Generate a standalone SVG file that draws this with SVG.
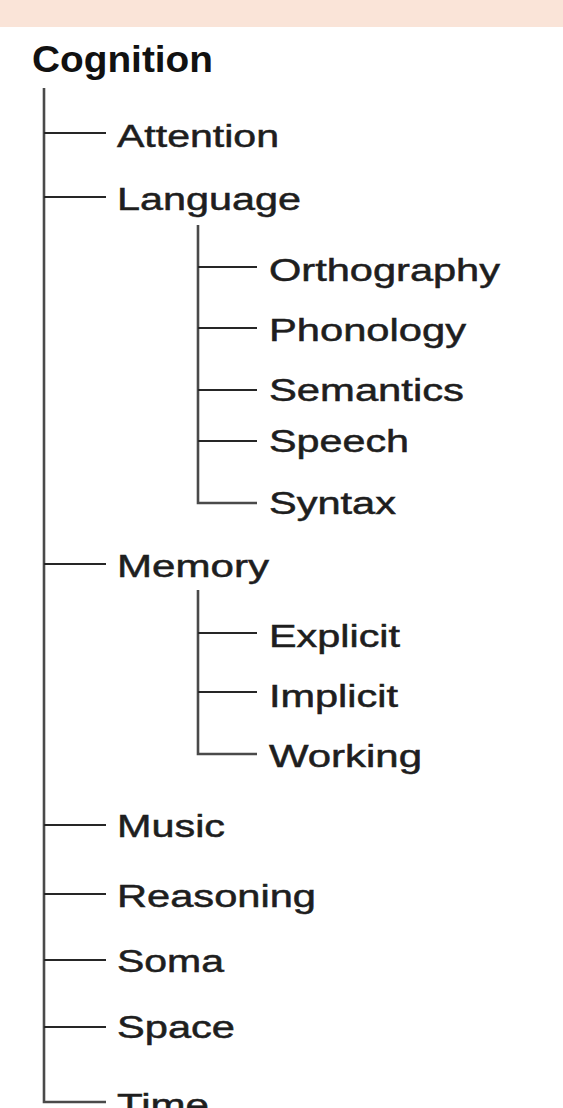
<svg xmlns="http://www.w3.org/2000/svg" width="563" height="1108" viewBox="0 0 563 1108">
  <style>
    .band { fill: #fae4d8; }
    .root { font-family: "Liberation Sans", Arial, sans-serif; font-weight: bold; font-size: 37px; fill: #111; }
    .label { font-family: "Liberation Sans", Arial, sans-serif; font-size: 31px; fill: #1e1e1e; stroke: #1e1e1e; stroke-width: 0.5; }
    .trunk { stroke: #4a4a4a; stroke-width: 2.6; fill: none; }
    .branch { stroke: #262626; stroke-width: 1.9; fill: none; }
  </style>

  <rect class="band" x="0" y="0" width="563" height="27"/>

  <!-- tree connectors -->
  <g id="connectors">
    <path class="trunk" d="M44 88 V1102 H106"/>
    <path class="branch" d="M44 133 H106 M44 197 H106 M44 564 H106 M44 825 H106 M44 894 H106 M44 960 H106 M44 1027 H106"/>
    <path class="trunk" d="M198 225 V503 H257"/>
    <path class="branch" d="M198 267 H257 M198 328 H257 M198 390 H257 M198 441 H257"/>
    <path class="trunk" d="M198 590 V754 H257"/>
    <path class="branch" d="M198 633 H257 M198 692 H257"/>
  </g>

  <g id="cognition"><text class="root" x="32" y="72" textLength="181" lengthAdjust="spacingAndGlyphs">Cognition</text></g>

  <g id="attention"><text class="label" x="117" y="147" textLength="162" lengthAdjust="spacingAndGlyphs">Attention</text></g>
  <g id="language"><text class="label" x="117" y="210" textLength="184" lengthAdjust="spacingAndGlyphs">Language</text></g>
  <g id="orthography"><text class="label" x="269" y="281" textLength="231" lengthAdjust="spacingAndGlyphs">Orthography</text></g>
  <g id="phonology"><text class="label" x="269" y="341" textLength="197" lengthAdjust="spacingAndGlyphs">Phonology</text></g>
  <g id="semantics"><text class="label" x="269" y="401" textLength="195" lengthAdjust="spacingAndGlyphs">Semantics</text></g>
  <g id="speech"><text class="label" x="269" y="452" textLength="140" lengthAdjust="spacingAndGlyphs">Speech</text></g>
  <g id="syntax"><text class="label" x="269" y="514" textLength="127" lengthAdjust="spacingAndGlyphs">Syntax</text></g>
  <g id="memory"><text class="label" x="117" y="577" textLength="152" lengthAdjust="spacingAndGlyphs">Memory</text></g>
  <g id="explicit"><text class="label" x="269" y="647" textLength="131" lengthAdjust="spacingAndGlyphs">Explicit</text></g>
  <g id="implicit"><text class="label" x="269" y="707" textLength="129" lengthAdjust="spacingAndGlyphs">Implicit</text></g>
  <g id="working"><text class="label" x="269" y="767" textLength="153" lengthAdjust="spacingAndGlyphs">Working</text></g>
  <g id="music"><text class="label" x="117" y="837" textLength="108" lengthAdjust="spacingAndGlyphs">Music</text></g>
  <g id="reasoning"><text class="label" x="117" y="907" textLength="199" lengthAdjust="spacingAndGlyphs">Reasoning</text></g>
  <g id="soma"><text class="label" x="117" y="972" textLength="107" lengthAdjust="spacingAndGlyphs">Soma</text></g>
  <g id="space"><text class="label" x="117" y="1038" textLength="118" lengthAdjust="spacingAndGlyphs">Space</text></g>
  <!-- last entry runs past the bottom edge of the canvas -->
  <g id="time"><text class="label" x="117" y="1116" textLength="92" lengthAdjust="spacingAndGlyphs">Time</text></g>
</svg>
